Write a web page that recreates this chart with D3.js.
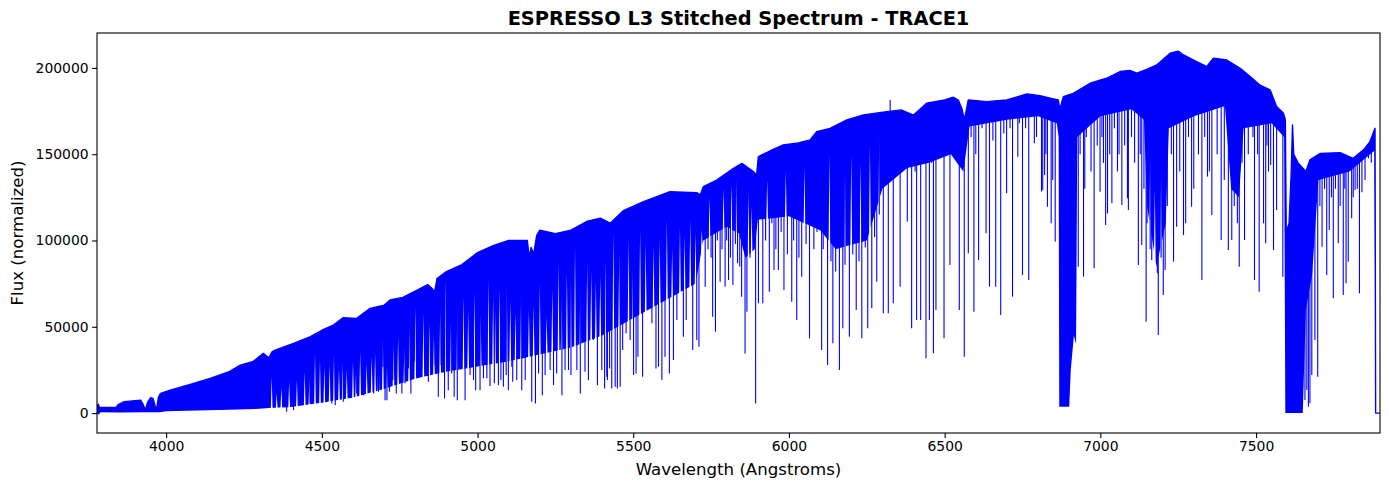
<!DOCTYPE html>
<html>
<head>
<meta charset="utf-8">
<script src="https://cdn.jsdelivr.net/npm/d3@7"></script>
<style>
  body { margin: 0; background: #fff; }
  svg { font-family: "DejaVu Sans", sans-serif; }
</style>
</head>
<body>
<svg id="chart" width="1389" height="490"></svg>
<script>
// upper envelope (continuum) of the stitched spectrum
const contWave = [3778, 3782, 3786, 3840, 3845, 3865, 3900, 3918, 3926, 3933, 3940, 3950, 3958, 3965, 3969, 3975, 3982,
    4013, 4077, 4141, 4200, 4238, 4280, 4312, 4330, 4340, 4350, 4409, 4462, 4500, 4537, 4569, 4612, 4655, 4700, 4719,
    4760, 4800, 4840, 4855, 4862, 4870, 4900, 4950, 5000, 5050, 5100, 5160, 5166, 5172, 5180, 5190, 5200, 5250, 5300,
    5350, 5394, 5426, 5468, 5533, 5618, 5704, 5715, 5725, 5768, 5822, 5849, 5870, 5886, 5896, 5902, 5940, 5982, 6030,
    6068, 6089, 6132, 6186, 6239, 6314, 6362, 6400, 6442, 6500, 6528, 6544, 6556, 6563, 6570, 6576, 6635, 6699, 6764,
    6806, 6839, 6865, 6870, 6881, 6913, 6967, 7020, 7063, 7095, 7117, 7149, 7181, 7224, 7250, 7267, 7309, 7342, 7363,
    7406, 7449, 7481, 7513, 7545, 7566, 7588, 7594, 7597, 7606, 7613, 7617, 7621, 7635, 7660, 7673, 7706, 7770, 7812,
    7845, 7866, 7882, 7884, 7898]
const contFlux = [3000, 5200, 3300, 3300, 4700, 6600, 7200, 7500, 5000, 1800, 6000, 8900, 8500, 4000, 1800, 9000, 11400,
    13300, 16600, 20100, 23800, 27800, 30000, 34600, 32000, 35500, 36500, 40400, 44200, 48000, 51000, 55300, 54900, 60700, 62500, 65500,
    67000, 70700, 74500, 72000, 70000, 78000, 82000, 86000, 93000, 97000, 100000, 100000, 90000, 96000, 92000, 103000, 106000, 104000, 106000,
    111000, 112900, 110000, 117300, 122500, 128300, 127700, 126400, 131200, 135000, 141800, 144700, 142000, 139900, 138000, 148600, 152000, 155400, 156500,
    158300, 163100, 165000, 169900, 172700, 174700, 175600, 172700, 179500, 181500, 183000, 181400, 176000, 170000, 176000, 181400, 180500, 181400, 184900,
    183900, 182400, 181400, 176000, 183400, 185300, 191100, 194000, 197900, 198500, 196900, 199200, 201700, 208500, 209700, 207500, 203700, 200800, 205600,
    204600, 199800, 195000, 190000, 187300, 177600, 173700, 170000, 105000, 110000, 140000, 167000, 150000, 145000, 140000, 146700, 150500, 150900, 147600,
    152500, 157300, 165000, 0, 0]

// lower edge of the solid, densely blended part of the spectrum
const lowWave = [3778, 3782, 3790, 3850, 3930, 3980, 4000, 4100, 4200, 4300, 4330, 4400, 4500, 4600, 4700, 4800, 4900,
    5000, 5100, 5200, 5300, 5400, 5500, 5600, 5700, 5725, 5800, 5840, 5860, 5890, 5900, 6000, 6100, 6150, 6250, 6300,
    6380, 6450, 6520, 6560, 6580, 6700, 6800, 6860, 6866, 6868, 6900, 6905, 6915, 6922, 6926, 7000, 7100, 7140, 7150,
    7180, 7210, 7220, 7300, 7400, 7420, 7445, 7460, 7550, 7590, 7594, 7650, 7660, 7680, 7700, 7800, 7880, 7884, 7898]
const lowFlux = [0, -1000, 500, 300, 500, 500, 1000, 1500, 2000, 2500, 3000, 3500, 6000, 9000, 14000, 20000, 24000,
    27000, 30000, 34000, 38000, 45000, 55000, 65000, 75000, 100000, 108000, 104000, 90000, 95000, 112000, 114000, 106000, 95000, 100000, 130000,
    142000, 145000, 150000, 140000, 166000, 170000, 172000, 168000, 160000, 3700, 3700, 25000, 45000, 40000, 160000, 172000, 176000, 170000, 120000,
    85000, 110000, 165000, 172000, 178000, 130000, 125000, 165000, 168000, 160000, 0, 0, 60000, 80000, 135000, 140000, 152000, 0, 0]

// narrow gaps in the blended part where the flux stays high (white slivers)
const gapWave = [4339, 4355, 4370, 4395, 4420, 4445, 4460, 4478, 4494, 4508, 4525, 4539, 4555, 4567, 4580, 4600, 4610,
    4623, 4644, 4660, 4671, 4682, 4696, 4709, 4730, 4745, 4765, 4780, 4800, 4826, 4845, 4860, 4880, 4896, 4915, 4935,
    4955, 4970, 4990, 5010, 5035, 5050, 5056, 5070, 5094, 5105, 5122, 5140, 5165, 5180, 5200, 5222, 5240, 5260, 5270,
    5287, 5300, 5313, 5330, 5352, 5365, 5380, 5394, 5410, 5436, 5455, 5485, 5500, 5522, 5540, 5565, 5585, 5608, 5625,
    5650, 5665, 5683, 5700, 5720, 5745, 5790, 5815, 5830, 5870, 5880, 5930, 5990, 6050, 6130, 6180, 6200, 6230, 6260,
    6290, 7160, 7175, 7195]
const gapFlux = [21100, 11400, 15000, 18000, 19100, 24000, 20000, 34600, 30700, 26900, 28000, 33600, 26000, 28800, 24950, 30000, 25000,
    35600, 28800, 32700, 34600, 38500, 44250, 26900, 40000, 45000, 38000, 50000, 61650, 57790, 52000, 45000, 60000, 77100, 55000, 62000,
    67450, 60000, 70000, 58000, 77100, 68000, 61650, 72000, 75180, 65000, 57790, 70000, 60000, 62000, 75000, 55860, 72000, 86800, 68000,
    80970, 78000, 96430, 74000, 86800, 82000, 76000, 79040, 88000, 104160, 92000, 100300, 95000, 106090, 98000, 96440, 100000, 111890, 96000,
    108030, 102000, 111890, 104000, 106090, 125000, 130000, 132000, 135000, 128000, 120000, 135000, 140000, 142000, 150000, 140000, 150000, 145000, 155000,
    160000, 150000, 130000, 140000]

// deep absorption lines: wavelength and flux at the line core
const lineWave = [4387, 4409, 4462, 4500, 4532, 4543, 4569, 4612, 4634, 4666, 4682, 4696, 4703, 4709, 4717, 4728, 4739,
    4749, 4757, 4767, 4778, 4786, 4797, 4807, 4814, 4832, 4842, 4853, 4864, 4874, 4883, 4894, 4906, 4917, 4925, 4935,
    4944, 4960, 4976, 4987, 4994, 5008, 5019, 5030, 5040, 5054, 5067, 5075, 5083, 5092, 5099, 5110, 5113, 5126, 5142,
    5153, 5174, 5186, 5196, 5208, 5217, 5233, 5244, 5254, 5271, 5281, 5292, 5300, 5319, 5330, 5345, 5356, 5372, 5385,
    5399, 5408, 5415, 5417, 5424, 5431, 5442, 5449, 5458, 5466, 5477, 5490, 5501, 5509, 5515, 5530, 5549, 5560, 5573,
    5581, 5592, 5602, 5616, 5629, 5640, 5661, 5670, 5691, 5704, 5711, 5731, 5755, 5764, 5779, 5795, 5806, 5820, 5835,
    5848, 5859, 5865, 5893, 5902, 5916, 5937, 5952, 5966, 5984, 6009, 6025, 6041, 6066, 6105, 6124, 6141, 6162, 6173,
    6194, 6216, 6234, 6253, 6266, 6282, 6303, 6319, 6325, 6335, 6357, 6380, 6394, 6410, 6423, 6440, 6451, 6464, 6472,
    6498, 6517, 6547, 6563, 6576, 6594, 6609, 6633, 6644, 6664, 6680, 6699, 6718, 6735, 6750, 6770, 6788, 6811, 6815,
    6821, 6830, 6842, 6847, 6855, 6929, 6946, 6980, 6999, 7017, 7023, 7037, 7069, 7087, 7090, 7122, 7133, 7147, 7165,
    7183, 7186, 7202, 7208, 7235, 7245, 7267, 7274, 7293, 7326, 7344, 7358, 7388, 7411, 7422, 7446, 7463, 7495, 7510,
    7524, 7531, 7547, 7556, 7566, 7586, 7657, 7663, 7668, 7673, 7679, 7689, 7698, 7712, 7727, 7735, 7748, 7764, 7780,
    7789, 7796, 7807, 7818, 7832, 7850, 7861]
const lineFlux = [800, 1800, 5600, 6000, 5600, 4600, 6600, 11400, 10400, 11400, 12400, 26900, 7500, 7500, 12300, 19150, 11400,
    20120, 11400, 17220, 25910, 11400, 29770, 23900, 30740, 30740, 18100, 32670, 27840, 9500, 27840, 8500, 13300, 23010, 9500, 7500,
    29770, 7500, 22050, 19150, 13300, 13300, 20120, 20120, 15700, 17220, 16200, 19150, 15300, 22050, 13300, 26880, 18100, 19150, 13300,
    19150, 6600, 5600, 23010, 10400, 22050, 24950, 16200, 23010, 10400, 24950, 24950, 22000, 24950, 11400, 23980, 19100, 42330, 16200,
    24950, 14300, 21000, 19150, 25910, 14300, 15300, 14300, 15300, 36500, 46200, 42300, 22050, 23000, 32700, 21100, 60700, 52000, 25900,
    26900, 19150, 32700, 23000, 30750, 53900, 44300, 53900, 36500, 42300, 38470, 73250, 55860, 47170, 76150, 73250, 77110, 74200, 86780,
    67450, 34600, 58760, 5630, 63590, 63590, 70350, 82910, 82910, 71320, 64560, 53930, 79050, 43300, 36540, 27850, 40410, 24960, 49110,
    44280, 59730, 43310, 49110, 60700, 76150, 57800, 57800, 181450, 63600, 73250, 110930, 49110, 53940, 53940, 31720, 53940, 34620, 59730,
    43310, 85810, 59730, 32680, 92580, 58770, 88710, 104170, 73250, 73250, 56830, 127350, 67460, 148600, 80020, 77120, 156330, 128300, 129290,
    137980, 119630, 109970, 135090, 99340, 84850, 79060, 83890, 128320, 109000, 115760, 121560, 120600, 124460, 117700, 85820, 97410, 52970, 88720,
    80960, 45250, 68430, 82920, 87750, 108040, 103210, 109970, 119630, 77130, 137020, 114800, 100310, 94520, 100310, 84850, 100310, 77130, 70370,
    109970, 98380, 143780, 94520, 117700, 79060, 7570, 13370, 3710, 5640, 22060, 42350, 21100, 96440, 80020, 106100, 66500, 98380, 68430,
    75190, 87750, 112860, 129290, 69390, 135080, 147640]

// weaker lines hanging just below the blended band
const weakWave = [5740, 5750, 5770, 5785, 5800, 5812, 5828, 5842, 5875, 5925, 5945, 5958, 5975, 5995, 6015, 6032, 6055,
    6080, 6090, 6110, 6135, 6150, 6180, 6205, 6225, 6245, 6275, 6290, 6385, 6405, 6430, 6458, 6485, 6505, 6530, 6585,
    6600, 6620, 6655, 6690, 6710, 6740, 6760, 6795, 6825, 6935, 6950, 6955, 6970, 6990, 7005, 7010, 7030, 7045, 7055,
    7060, 7078, 7100, 7110, 7128, 7140, 7150, 7160, 7170, 7195, 7215, 7228, 7255, 7283, 7300, 7315, 7335, 7350, 7375,
    7398, 7430, 7440, 7455, 7475, 7490, 7505, 7535, 7540, 7705, 7720, 7742, 7755, 7770, 7785, 7812, 7825, 7840, 7870]
const weakFlux = [95000, 90000, 100000, 95000, 100000, 90000, 98000, 85000, 90000, 100000, 110000, 95000, 105000, 92000, 100000, 90000, 98000,
    95000, 105000, 95000, 88000, 82000, 86000, 92000, 88000, 96000, 102000, 115000, 150000, 140000, 155000, 145000, 150000, 158000, 150000, 160000,
    150000, 165000, 158000, 162000, 165000, 168000, 165000, 160000, 150000, 150000, 130000, 160000, 140000, 155000, 160000, 145000, 150000, 165000, 140000,
    150000, 155000, 160000, 145000, 150000, 130000, 110000, 95000, 100000, 90000, 120000, 150000, 140000, 160000, 130000, 150000, 160000, 140000, 150000,
    135000, 120000, 110000, 145000, 150000, 160000, 150000, 155000, 140000, 120000, 130000, 125000, 130000, 120000, 130000, 125000, 130000, 128000, 145000]

const xTicks = [4000, 4500, 5000, 5500, 6000, 6500, 7000, 7500]
const yTicks = [0, 50000, 100000, 150000, 200000]

const titleText = "ESPRESSO L3 Stitched Spectrum - TRACE1"
const xLabel = "Wavelength (Angstroms)"
const yLabel = "Flux (normalized)"

function drawSpectrum() {
    const svg = d3.select("#chart")
    const width = 1389
    const height = 490
    const margin = {top: 33, right: 9, bottom: 57, left: 97}
    const innerWidth = width - margin.left - margin.right
    const innerHeight = height - margin.top - margin.bottom

    // matplotlib style: x limits at the data ends, y with 5% margin
    let fmin = d3.min([d3.min(contFlux), d3.min(lowFlux), d3.min(lineFlux)])
    let fmax = d3.max([d3.max(contFlux), d3.max(lowFlux), d3.max(lineFlux)])
    let pad = (fmax - fmin) * 0.05

    let xScale = d3.scaleLinear()
        .domain([contWave[0], contWave[contWave.length - 1]])
        .range([margin.left, margin.left + innerWidth])
    let yScale = d3.scaleLinear()
        .domain([fmin - pad, fmax + pad])
        .range([margin.top + innerHeight, margin.top])
    // envelope levels at any wavelength (for line tops and gap edges)
    let contAt = d3.scaleLinear().domain(contWave).range(contFlux)
    let lowAt = d3.scaleLinear().domain(lowWave).range(lowFlux)

    svg.append("defs").append("clipPath").attr("id", "plot-clip")
        .append("rect")
        .attr("x", margin.left).attr("y", margin.top)
        .attr("width", innerWidth).attr("height", innerHeight)

    const plot = svg.append("g").attr("clip-path", "url(#plot-clip)")

    // lower edge: solid edge with the narrow gaps cut into it
    const half = 2.6
    let edge = []
    lowWave.forEach((w, i) => {
        if (!gapWave.some(g => Math.abs(g - w) <= half)) edge.push([w, lowFlux[i]])
    })
    gapWave.forEach((g, i) => {
        edge.push([g - half, lowAt(g - half)], [g, gapFlux[i]], [g + half, lowAt(g + half)])
    })
    edge.sort((a, b) => a[0] - b[0])

    let bandPts = contWave.map((w, i) => [xScale(w), yScale(contFlux[i])])
    for (let i = edge.length - 1; i >= 0; i--) {
        bandPts.push([xScale(edge[i][0]), yScale(edge[i][1])])
    }
    plot.append("path")
        .attr("d", "M" + bandPts.map(p => p[0].toFixed(2) + "," + p[1].toFixed(2)).join("L") + "Z")
        .attr("fill", "blue")
        .attr("stroke", "none")

    let drawLines = (waves, fluxes, cls) => {
        plot.selectAll("line." + cls)
            .data(waves)
            .join("line")
            .attr("class", cls)
            .attr("x1", d => xScale(d))
            .attr("x2", d => xScale(d))
            .attr("y1", d => yScale(contAt(d)))
            .attr("y2", (d, i) => yScale(fluxes[i]))
            .attr("stroke", "blue")
            .attr("stroke-width", 1.1)
    }
    drawLines(weakWave, weakFlux, "weak")
    drawLines(lineWave, lineFlux, "deep")

    let line = d3.line()
        .x((d, i) => xScale(contWave[i]))
        .y(d => yScale(d))
    plot.append("path")
        .datum(contFlux)
        .attr("fill", "none")
        .attr("stroke", "blue")
        .attr("stroke-width", 1.4)
        .attr("stroke-linejoin", "round")
        .attr("d", line)

    let xAxis = g => g
        .attr("transform", `translate(0,${margin.top + innerHeight})`)
        .call(d3.axisBottom(xScale).tickValues(xTicks).tickFormat(d3.format("d")).tickSize(4.9).tickPadding(3.5))
        .call(g => g.select(".domain").remove())
    let yAxis = g => g
        .attr("transform", `translate(${margin.left},0)`)
        .call(d3.axisLeft(yScale).tickValues(yTicks).tickFormat(d3.format("d")).tickSize(4.9).tickPadding(3.5))
        .call(g => g.select(".domain").remove())

    svg.append("g").call(xAxis)
    svg.append("g").call(yAxis)
    svg.selectAll(".tick text")
        .attr("font-family", "DejaVu Sans")
        .attr("font-size", 13.9)
        .attr("fill", "#000")
    svg.selectAll(".tick line")
        .attr("stroke", "#000")
        .attr("stroke-width", 1.1)

    svg.append("rect")
        .attr("x", margin.left).attr("y", margin.top)
        .attr("width", innerWidth).attr("height", innerHeight)
        .attr("fill", "none")
        .attr("stroke", "#000")
        .attr("stroke-width", 1.1)

    svg.append("text")
        .attr("x", margin.left + innerWidth / 2)
        .attr("y", 25)
        .attr("text-anchor", "middle")
        .attr("font-size", 19.4)
        .attr("font-weight", "bold")
        .text(titleText)

    svg.append("text")
        .attr("x", margin.left + innerWidth / 2)
        .attr("y", 475)
        .attr("text-anchor", "middle")
        .attr("font-size", 16.6)
        .text(xLabel)

    svg.append("text")
        .attr("transform", `translate(23,${margin.top + innerHeight / 2}) rotate(-90)`)
        .attr("text-anchor", "middle")
        .attr("font-size", 16.6)
        .text(yLabel)
}

drawSpectrum()
</script>
</body>
</html>
